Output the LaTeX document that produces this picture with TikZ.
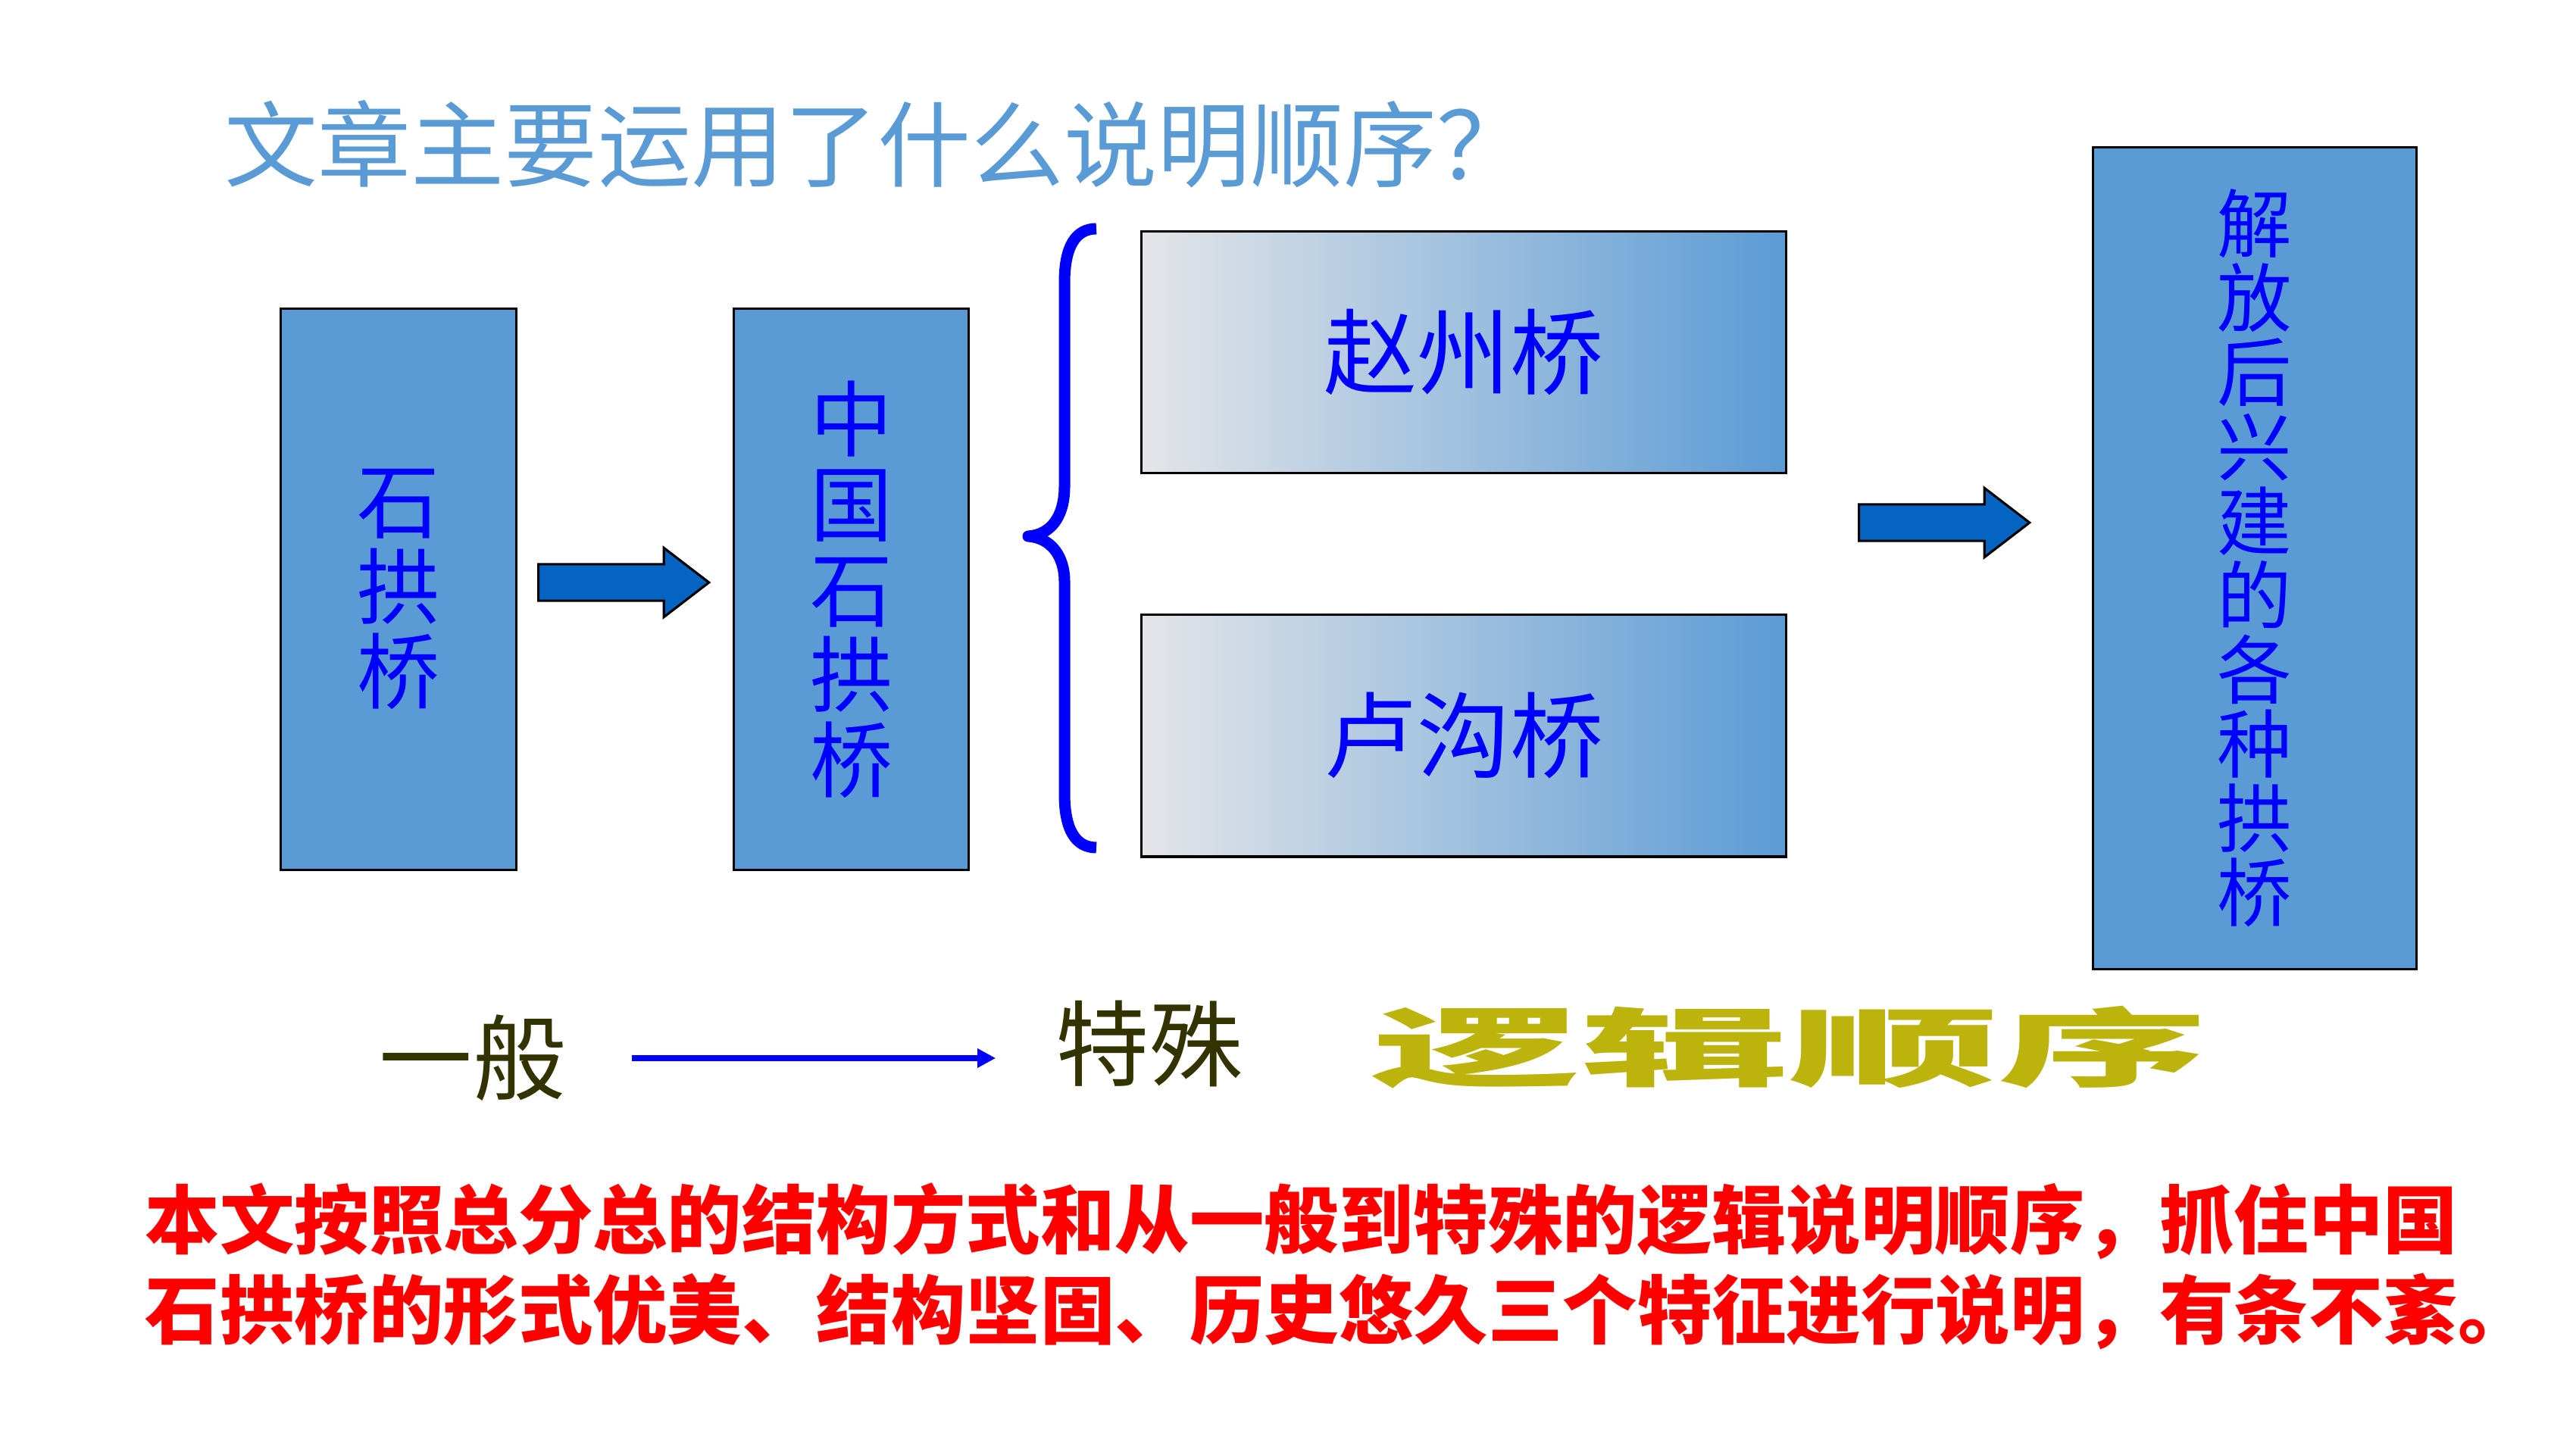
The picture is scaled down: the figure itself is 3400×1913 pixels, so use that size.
\documentclass[tikz,border=0pt]{standalone}
\usepackage{fontspec}
\setmainfont{Noto Sans CJK SC}
\usepackage{graphicx}
\usetikzlibrary{arrows.meta,positioning,shapes.arrows}

\definecolor{boxblue}{RGB}{91,155,213}
\definecolor{textblue}{RGB}{0,0,255}
\definecolor{arrowblue}{RGB}{5,99,193}
\definecolor{fadegray}{RGB}{228,229,232}
\definecolor{olivetext}{RGB}{51,51,0}
\definecolor{goldtext}{RGB}{188,180,12}

\begin{document}
\begin{tikzpicture}[
  x=0.01cm, y=-0.01cm,
  >=Latex,
  pillar/.style={rectangle, draw=black, line width=0.9pt, fill=boxblue, text=textblue, align=center, minimum width=3.1cm, minimum height=7.41cm},
  bridge/.style={rectangle, draw=black, line width=0.9pt, left color=fadegray, right color=boxblue, text=textblue, minimum width=8.5cm, minimum height=3.19cm, font=\fontsize{35}{40}\selectfont},
  bigarrow/.style={single arrow, draw=black, line width=0.9pt, fill=arrowblue, minimum height=2.25cm, minimum width=0.88cm, single arrow head extend=0.215cm, single arrow tip angle=75, inner xsep=0pt, inner ysep=0.225cm, anchor=tail},
  word/.style={inner sep=0pt, text=olivetext, font=\fontsize{35}{40}\selectfont},
  line/.style={draw=textblue, line width=2pt, -{Triangle[length=0.24cm,width=0.24cm]}}
]
\useasboundingbox (0,0) rectangle (3400,1913);

\node[anchor=west, inner sep=0pt, text=boxblue, font=\fontsize{35}{40}\selectfont] (title) at (296,190) {文章主要运用了什么说明顺序？};

\node[pillar, font=\fontsize{31}{32}\selectfont] (stone) at (526,778) {石\\拱\\桥};
\node[pillar, right=2.84cm of stone, font=\fontsize{31}{32}\selectfont] (china) {中\\国\\石\\拱\\桥};
\node[bigarrow] (arrowA) at (709,769) {};

\draw[textblue, line width=0.15cm, line join=round] (1447,302) .. controls (1420,302) and (1405,325) .. (1405,373) -- (1405,642) .. controls (1405,682) and (1387,706) .. (1357,708) .. controls (1387,710) and (1405,734) .. (1405,768) -- (1405,1048) .. controls (1405,1096) and (1420,1119) .. (1447,1119);

\node[bridge] (zhaozhou) at (1932,465) {赵州桥};
\node[bridge, below=1.84cm of zhaozhou] (lugou) {卢沟桥};
\node[bigarrow] (arrowB) at (2452,690) {};

\node[pillar, minimum width=4.26cm, minimum height=10.85cm, font=\fontsize{28}{27.9}\selectfont] (modern) at (2976,737) {解\\放\\后\\兴\\建\\的\\各\\种\\拱\\桥};

\node[word] (general) at (624,1397) {一般};
\node[word] (special) at (1517,1378) {特殊};
\path[line, shorten <=0.86cm, shorten >=0.79cm] (general.east) -- (general.east -| special.west);

\node[inner sep=0pt, text=goldtext, font=\fontsize{32}{36}\bfseries] (logic) at (2362,1383) {\scalebox{2.45}[1]{逻辑顺序}};

\node[anchor=west, align=left, inner sep=0pt, text=red, font=\fontsize{28}{33.9}\bfseries] (summary) at (191,1672) {本文按照总分总的结构方式和从一般到特殊的逻辑说明顺序，抓住中国\\石拱桥的形式优美、结构坚固、历史悠久三个特征进行说明，有条不紊。};

\end{tikzpicture}
\end{document}
